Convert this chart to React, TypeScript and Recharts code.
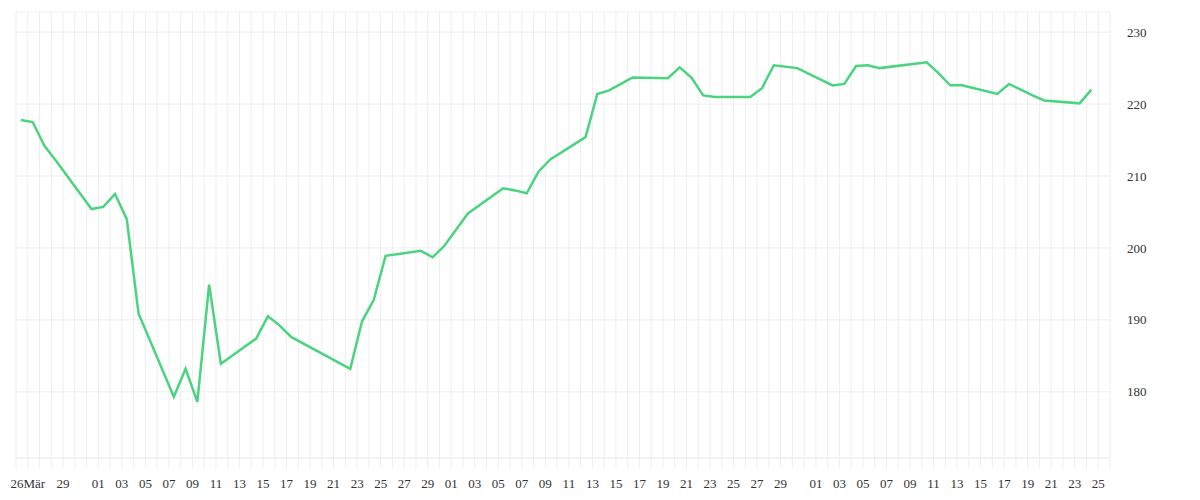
import { LineChart, Line, XAxis, YAxis, CartesianGrid } from 'recharts';

// trading days (2025), closing price
const dates = [
  '03-25', '03-26', '03-27', '03-28', '03-31', '04-01', '04-02', '04-03', '04-04',
  '04-07', '04-08', '04-09', '04-10', '04-11', '04-14', '04-15', '04-16', '04-17',
  '04-22', '04-23', '04-24', '04-25', '04-28', '04-29', '04-30', '05-02',
  '05-05', '05-06', '05-07', '05-08', '05-09', '05-12', '05-13', '05-14', '05-15', '05-16',
  '05-19', '05-20', '05-21', '05-22', '05-23', '05-26', '05-27', '05-28', '05-30',
  '06-02', '06-03', '06-04', '06-05', '06-06', '06-10', '06-11', '06-12', '06-13',
  '06-16', '06-17', '06-18', '06-19', '06-20', '06-23', '06-24',
];

const closes = [
  217.8, 217.5, 214.2, 212.1, 205.4, 205.7, 207.5, 204.0, 190.9,
  179.3, 183.2, 178.6, 194.9, 183.9, 187.4, 190.5, 189.2, 187.6,
  183.2, 189.8, 192.8, 198.9, 199.6, 198.7, 200.3, 204.8,
  208.3, 208.0, 207.6, 210.6, 212.3, 215.4, 221.4, 221.9, 222.8, 223.7,
  223.6, 225.1, 223.7, 221.2, 221.0, 221.0, 222.2, 225.4, 225.0,
  222.6, 222.8, 225.3, 225.4, 225.0, 225.8, 224.3, 222.6, 222.6,
  221.4, 222.8, 222.0, 221.2, 220.5, 220.1, 222.0,
];

const xTickDates = [
  '03-26', '03-29',
  '04-01', '04-03', '04-05', '04-07', '04-09', '04-11', '04-13', '04-15', '04-17', '04-19',
  '04-21', '04-23', '04-25', '04-27', '04-29',
  '05-01', '05-03', '05-05', '05-07', '05-09', '05-11', '05-13', '05-15', '05-17', '05-19',
  '05-21', '05-23', '05-25', '05-27', '05-29',
  '06-01', '06-03', '06-05', '06-07', '06-09', '06-11', '06-13', '06-15', '06-17', '06-19',
  '06-21', '06-23', '06-25',
];
const xTickLabels = xTickDates.map((d, i) => (i === 0 ? d.slice(3) + 'Mär' : d.slice(3)));

const yTicks = [180, 190, 200, 210, 220, 230];

const START = Date.UTC(2025, 2, 25);
const DAY = 86400000;
const SESSION = 10 / 24; // quotes stamped around 10:00
const dayOf = (md: string) => {
  const [m, d] = md.split('-').map(Number);
  return (Date.UTC(2025, m - 1, d) - START) / DAY;
};

const data = dates.map((d, i) => ({ t: dayOf(d) + SESSION, close: closes[i] }));

const LAST_DAY = dayOf('06-26');
const dayTicks = Array.from({ length: LAST_DAY + 1 }, (_, i) => i);
const labelByDay = new Map(xTickDates.map((d, i) => [dayOf(d), xTickLabels[i]]));

const GRID = '#eeeeee';
const TEXT = '#333';
const tickStyle = { fill: TEXT, fontSize: 13, fontFamily: '"Liberation Serif", "Times New Roman", serif' };

export default function App() {
  return (
    <LineChart
      width={1192}
      height={492}
      data={data}
      margin={{ top: 4, right: 0, bottom: 0, left: 8 }}
    >
      <CartesianGrid stroke={GRID} />
      <XAxis
        dataKey="t"
        type="number"
        domain={[0, LAST_DAY]}
        ticks={dayTicks}
        interval={0}
        allowDataOverflow
        height={42}
        stroke={GRID}
        tickSize={10}
        tickMargin={11}
        tickLine={{ stroke: GRID }}
        axisLine={{ stroke: GRID }}
        tick={tickStyle}
        tickFormatter={(v: number) => labelByDay.get(v) ?? ''}
      />
      <YAxis
        orientation="right"
        type="number"
        domain={[170.8, 232.8]}
        ticks={yTicks}
        allowDataOverflow
        width={90}
        axisLine={false}
        tickLine={false}
        tickMargin={11}
        tick={tickStyle}
      />
      <Line
        type="linear"
        dataKey="close"
        stroke="#4ad47f"
        strokeWidth={2.5}
        dot={false}
        isAnimationActive={false}
      />
    </LineChart>
  );
}
